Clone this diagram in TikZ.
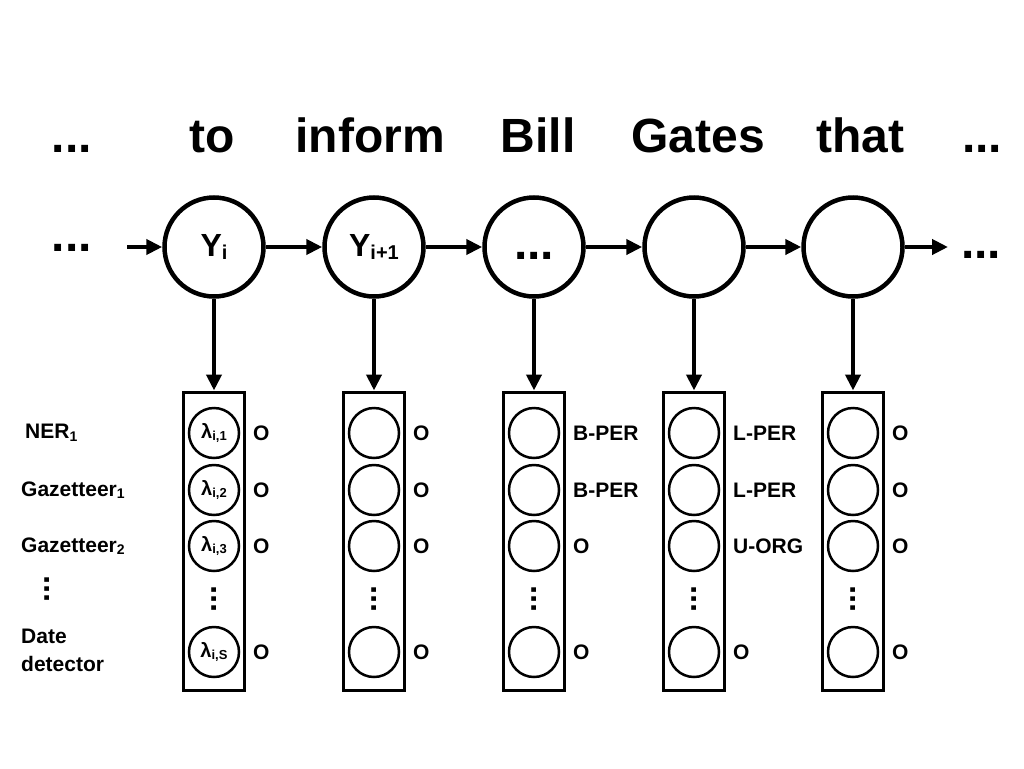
\documentclass[tikz,border=0pt]{standalone}
\usepackage{fontspec}
\setmainfont{Liberation Sans}
\usetikzlibrary{arrows.meta}
\newcommand{\ssub}[2][14]{\raisebox{-2.5pt}{\fontsize{#1}{#1}\selectfont #2}}

\begin{document}
\begin{tikzpicture}[x=1pt, y=-1pt, inner sep=0pt,
	state/.style={circle, draw, line width=4.5pt, minimum size=99pt},
	feat/.style={circle, draw, line width=2.5pt, minimum size=50pt, font=\fontsize{20}{20}\selectfont\bfseries},
	column/.style={rectangle, draw, line width=3pt, minimum width=61pt, minimum height=298pt},
	arr/.style={line width=4.5pt, -{Triangle[length=16pt, width=15pt]}},
	word/.style={anchor=base, font=\fontsize{48}{48}\selectfont\bfseries},
	dots/.style={font=\fontsize{48}{48}\selectfont\bfseries},
	vdots/.style={rotate=90, font=\fontsize{32}{32}\selectfont\bfseries},
	lab/.style={anchor=west, font=\fontsize{21}{28}\selectfont\bfseries, align=left}]
	\useasboundingbox (0,0) rectangle (1024,768);

	\node (w0) at (72,152) [word] {...};
	\node (w1) at (212,152) [word] {to};
	\node (w2) at (370,152) [word] {inform};
	\node (w3) at (538,152) [word] {Bill};
	\node (w4) at (698,152) [word] {Gates};
	\node (w5) at (860,152) [word] {that};
	\node (w6) at (982,152) [word] {...};

	\node (d0) at (72,248) [dots] {...};
	\node (d6) at (981,255) [dots] {...};
	\coordinate (in) at (127,247);
	\coordinate (out) at (948,247);
	\node (c1) at (214,247) [state] {\fontsize{32}{32}\selectfont\bfseries Y\ssub[20]{i}};
	\node (c2) at (374,247) [state] {\fontsize{32}{32}\selectfont\bfseries Y\ssub[20]{i+1}};
	\node (c3) at (534,247) [state] {};
	\node (d3) at (534,256) [dots] {...};
	\node (c4) at (694,247) [state] {};
	\node (c5) at (853,247) [state] {};
	\draw[arr] (in) -- (c1);
	\draw[arr] (c1) -- (c2);
	\draw[arr] (c2) -- (c3);
	\draw[arr] (c3) -- (c4);
	\draw[arr] (c4) -- (c5);
	\draw[arr] (c5) -- (out);

	\node (b1) at (214,541) [column] {};
	\node (b2) at (374,541) [column] {};
	\node (b3) at (534,541) [column] {};
	\node (b4) at (694,541) [column] {};
	\node (b5) at (853,541) [column] {};
	\draw[arr] (c1) -- (b1);
	\draw[arr] (c2) -- (b2);
	\draw[arr] (c3) -- (b3);
	\draw[arr] (c4) -- (b4);
	\draw[arr] (c5) -- (b5);

	\node (n1) at (25,433) [lab] {NER\ssub{1}};
	\node (n2) at (21,490) [lab] {Gazetteer\ssub{1}};
	\node (n3) at (21,546) [lab] {Gazetteer\ssub{2}};
	\node (n4) at (47,589) [vdots] {...};
	\node (n5) at (21,650) [lab] {Date\\detector};

	\node (f11) at (214,433) [feat] {λ\ssub[13]{i,1}};
	\node (f12) at (214,490) [feat] {λ\ssub[13]{i,2}};
	\node (f13) at (214,546) [feat] {λ\ssub[13]{i,3}};
	\node (f14) at (214,599) [vdots] {...};
	\node (f15) at (214,652) [feat] {λ\ssub[13]{i,S}};
	\node (f21) at (374,433) [feat] {};
	\node (f22) at (374,490) [feat] {};
	\node (f23) at (374,546) [feat] {};
	\node (f24) at (374,599) [vdots] {...};
	\node (f25) at (374,652) [feat] {};
	\node (f31) at (534,433) [feat] {};
	\node (f32) at (534,490) [feat] {};
	\node (f33) at (534,546) [feat] {};
	\node (f34) at (534,599) [vdots] {...};
	\node (f35) at (534,652) [feat] {};
	\node (f41) at (694,433) [feat] {};
	\node (f42) at (694,490) [feat] {};
	\node (f43) at (694,546) [feat] {};
	\node (f44) at (694,599) [vdots] {...};
	\node (f45) at (694,652) [feat] {};
	\node (f51) at (853,433) [feat] {};
	\node (f52) at (853,490) [feat] {};
	\node (f53) at (853,546) [feat] {};
	\node (f54) at (853,599) [vdots] {...};
	\node (f55) at (853,652) [feat] {};

	\node (o11) at (253,433) [lab] {O};
	\node (o12) at (253,490) [lab] {O};
	\node (o13) at (253,546) [lab] {O};
	\node (o15) at (253,652) [lab] {O};
	\node (o21) at (413,433) [lab] {O};
	\node (o22) at (413,490) [lab] {O};
	\node (o23) at (413,546) [lab] {O};
	\node (o25) at (413,652) [lab] {O};
	\node (o31) at (573,433) [lab] {B-PER};
	\node (o32) at (573,490) [lab] {B-PER};
	\node (o33) at (573,546) [lab] {O};
	\node (o35) at (573,652) [lab] {O};
	\node (o41) at (733,433) [lab] {L-PER};
	\node (o42) at (733,490) [lab] {L-PER};
	\node (o43) at (733,546) [lab] {U-ORG};
	\node (o45) at (733,652) [lab] {O};
	\node (o51) at (892,433) [lab] {O};
	\node (o52) at (892,490) [lab] {O};
	\node (o53) at (892,546) [lab] {O};
	\node (o55) at (892,652) [lab] {O};
\end{tikzpicture}
\end{document}
